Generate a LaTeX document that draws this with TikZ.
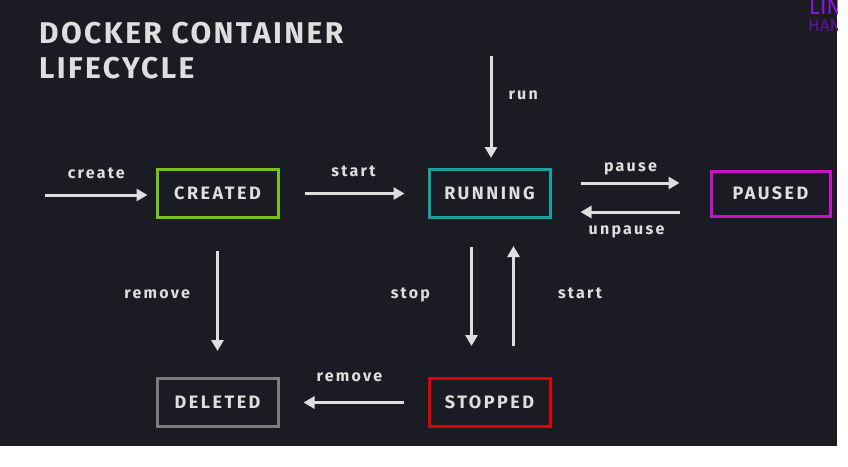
\documentclass[tikz,border=0pt]{standalone}
\usepackage{fontspec}
\newfontfamily\titlefont{Fira Sans}[LetterSpace=8]
\newfontfamily\lblfont{Fira Sans}[LetterSpace=14]
\newfontfamily\logofont{Fira Sans}
\usetikzlibrary{positioning,arrows.meta}

\begin{document}
\begin{tikzpicture}[
            x=1pt, y=-1pt,
            node distance=148pt,
            state/.style={draw,line width=3pt,minimum width=121pt,minimum height=48pt,inner sep=0pt,
                          font=\lblfont\bfseries\fontsize{18}{18}\selectfont,text=txt},
            trans/.style={draw=txt,line width=3pt,-{Triangle[width=12pt,length=11pt]}},
            lbl/.style={inner sep=0pt,font=\lblfont\bfseries\fontsize{16}{16}\selectfont,text=txt}
        ]
            \definecolor{bgd}{RGB}{27,28,35}
            \definecolor{txt}{RGB}{222,222,222}
            \definecolor{grn}{RGB}{118,196,20}
            \definecolor{tea}{RGB}{22,160,162}
            \definecolor{mag}{RGB}{200,16,200}
            \definecolor{gry}{RGB}{125,125,125}
            \definecolor{rdd}{RGB}{228,0,0}
            \definecolor{lgA}{RGB}{140,24,220}
            \definecolor{lgB}{RGB}{100,16,160}

            \useasboundingbox (0,0) rectangle (848,466);
            \fill[white] (0,0) rectangle (848,466);
            \fill[bgd]   (0,0) rectangle (837,446);

            % title and cut-off logo
            \node (title) [anchor=north west,inner sep=0pt,align=left,text=txt,
                           font=\titlefont\bfseries\fontsize{30}{35}\selectfont] at (39,22)
                  {DOCKER CONTAINER\\LIFECYCLE};
            \begin{scope}
                \clip (0,0) rectangle (837,446);
                \node (logo1) [anchor=north west,inner sep=0pt,text=lgA,font=\logofont\fontsize{22}{22}\selectfont] at (809,-1) {LIN};
                \node (logo2) [anchor=north west,inner sep=0pt,text=lgB,font=\logofont\fontsize{17}{17}\selectfont] at (808,20) {HAN};
            \end{scope}

            % states
            \node (created) [state,draw=grn] at (217.5,193.5)           {CREATED};
            \node (running) [state,draw=tea,right=of created]           {RUNNING};
            \node (paused)  [state,draw=mag,right=158pt of running,
                             minimum width=119pt,minimum height=45pt]   {PAUSED};
            \node (deleted) [state,draw=gry,below=158pt of created]     {DELETED};
            \node (stopped) [state,draw=rdd,below=158pt of running]     {STOPPED};

            \coordinate (c0) at (45,195);
            \coordinate (r0) at (491,56);

            % transitions
            \draw [trans,shorten >=8pt]  (c0) -- node[lbl,anchor=base,yshift=17pt,xshift=-4pt] {create} (c0 -| created.west);
            \draw [trans,shorten <=25pt,shorten >=23pt] (created.east) -- node[lbl,anchor=base,yshift=17pt] {start} (created.east -| running.west);
            \draw [trans,shorten >=10pt] (r0) -- node[lbl,pos=0.39,anchor=base west,xshift=16pt] {run} (r0 |- running.north);
            \draw [trans,shorten <=29pt,shorten >=30pt] ([yshift=10.5pt]running.east) -- node[lbl,anchor=base,yshift=12pt] {pause} ([yshift=10.5pt]paused.west);
            \draw [trans,shorten <=30pt,shorten >=29pt] ([yshift=-18.5pt]paused.west) -- node[lbl,anchor=base,yshift=-22pt,xshift=-4pt] {unpause} ([yshift=-18.5pt]running.east);
            \draw [trans,shorten <=32pt,shorten >=26pt] (created.south) -- node[lbl,anchor=base east,xshift=-26pt] {remove} (deleted.north);
            \draw [trans,shorten <=28pt,shorten >=31pt] ([xshift=-18pt]running.south) -- node[lbl,anchor=base east,xshift=-40pt] {stop} ([xshift=-18pt]stopped.north);
            \draw [trans,shorten <=31pt,shorten >=27pt] ([xshift=24pt]stopped.north) -- node[lbl,anchor=base west,xshift=43pt] {start} ([xshift=24pt]running.south);
            \draw [trans,shorten <=24pt,shorten >=24pt] (stopped.west) -- node[lbl,anchor=base,yshift=21pt,xshift=-4pt] {remove} (stopped.west -| deleted.east);
        \end{tikzpicture}
\end{document}
